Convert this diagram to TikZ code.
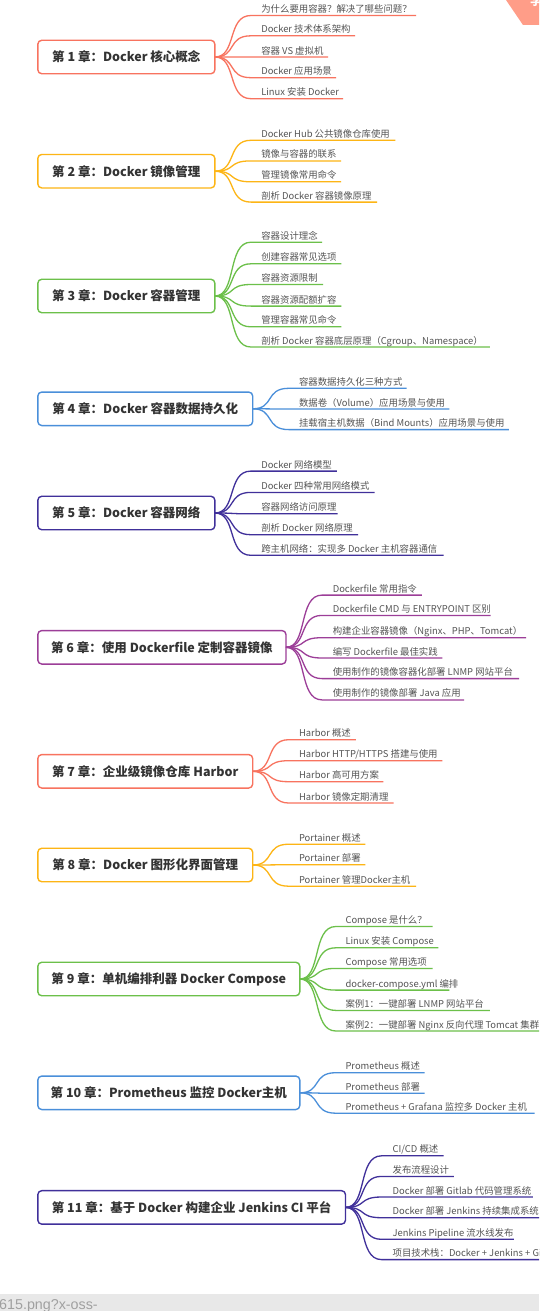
\documentclass[tikz,border=0pt]{standalone}
\usepackage{fontspec}
\setmainfont{Noto Sans CJK SC}
\newfontfamily\barfont{Liberation Sans}
\usetikzlibrary{backgrounds}
\definecolor{cRed}{HTML}{F8735F}
\definecolor{cOra}{HTML}{FDB515}
\definecolor{cGre}{HTML}{6CC04A}
\definecolor{cBlu}{HTML}{4A8FDA}
\definecolor{cPur}{HTML}{40309A}
\definecolor{cMag}{HTML}{9C3E98}
\definecolor{titlegray}{HTML}{333333}
\definecolor{subgray}{HTML}{555555}
\definecolor{barbg}{HTML}{E8E8E8}
\definecolor{bartext}{HTML}{A0A0A0}
\definecolor{ribbon}{HTML}{FF9D88}

\newcommand{\mkchap}[7]{%
  \node[chapbox, draw=#2, minimum width={#4-37.8}] (c#1) at ({(37.8+#4)/2}, #3) {#6};
  \foreach \yu/\xend/\txt [count=\i] in {#7} {
    \coordinate (s#1-\i) at ({#4+36}, \yu);
    \coordinate (e#1-\i) at (\xend, \yu);
    \draw[subline, #2] (c#1.east) .. controls +(22,0) and +(-24,0) .. (s#1-\i) -- (e#1-\i);
    \node[subtxt, anchor=base west] (t#1-\i) at (#5, \yu-3) {\txt};
  }
}

\begin{document}
\begin{tikzpicture}[x=1pt,y=-1pt,
  chapbox/.style={rectangle, rounded corners=4pt, fill=white, line width=1.4pt,
    minimum height=33.5pt, inner sep=0pt, outer sep=0pt,
    font=\fontsize{12.5}{14}\selectfont\bfseries, text=titlegray},
  subline/.style={line width=1.3pt},
  subtxt/.style={inner sep=0pt, outer sep=0pt, font=\fontsize{9.4}{11}\selectfont, text=subgray},
  spinebr/.style={line width=6pt, rounded corners=8pt},
  lowbr/.style={line width=3.2pt, rounded corners=8pt}]
\clip (0,0) rectangle (539,1311);
\fill[white] (0,0) rectangle (539,1311);

\mkchap{1}{cRed}{57}{214.9}{261.3}{第 1 章：Docker 核心概念}{
  15.5/416/{为什么要用容器？解决了哪些问题？},
  35.8/355/{Docker 技术体系架构},
  57.1/328/{容器 VS 虚拟机},
  77.7/336/{Docker 应用场景},
  98.7/343/{Linux 安装 Docker}}

\mkchap{2}{cOra}{171.2}{214.9}{261.3}{第 2 章：Docker 镜像管理}{
  140.3/395.3/{Docker Hub 公共镜像仓库使用},
  160.9/341/{镜像与容器的联系},
  181.8/341/{管理镜像常用命令},
  202.1/377/{剖析 Docker 容器镜像原理}}

\mkchap{3}{cGre}{296}{214.9}{261.3}{第 3 章：Docker 容器管理}{
  242.2/322/{容器设计理念},
  263.8/341.4/{创建容器常见选项},
  284.5/323/{容器资源限制},
  306.1/341.4/{容器资源配额扩容},
  326.8/341.4/{管理容器常见命令},
  347/489.9/{剖析 Docker 容器底层原理（Cgroup、Namespace）}}

\mkchap{4}{cBlu}{408.8}{252.7}{299}{第 4 章：Docker 容器数据持久化}{
  388.3/406.7/{容器数据持久化三种方式},
  409/449.3/{数据卷（Volume）应用场景与使用},
  429.6/508.8/{挂载宿主机数据（Bind Mounts）应用场景与使用}}

\mkchap{5}{cPur}{513}{214.9}{261.3}{第 5 章：Docker 容器网络}{
  471.1/336.9/{Docker 网络模型},
  492.4/374.7/{Docker 四种常用网络模式},
  513.8/337.6/{容器网络访问原理},
  534.7/358.2/{剖析 Docker 网络原理},
  555.3/443.5/{跨主机网络：实现多 Docker 主机容器通信}}

\mkchap{6}{cMag}{647.3}{286}{332.8}{第 6 章：使用 Dockerfile 定制容器镜像}{
  595.1/421.8/{Dockerfile 常用指令},
  615.4/490.5/{Dockerfile CMD 与 ENTRYPOINT 区别},
  637.7/526/{构建企业容器镜像（Nginx、PHP、Tomcat）},
  658/442.4/{编写 Dockerfile 最佳实践},
  678.6/519/{使用制作的镜像容器化部署 LNMP 网站平台},
  699.9/464/{使用制作的镜像部署 Java 应用}}

\mkchap{7}{cRed}{771.3}{252.7}{299}{第 7 章：企业级镜像仓库 Harbor}{
  739.7/355.8/{Harbor 概述},
  760.7/442.4/{Harbor HTTP/HTTPS 搭建与使用},
  781.7/383.3/{Harbor 高可用方案},
  803/393.6/{Harbor 镜像定期清理}}

\mkchap{8}{cOra}{865}{252.7}{299}{第 8 章：Docker 图形化界面管理}{
  844.2/365.4/{Portainer 概述},
  864.8/365.4/{Portainer 部署},
  886.2/416/{Portainer 管理Docker主机}}

\mkchap{9}{cGre}{979}{299.8}{345.5}{第 9 章：单机编排利器 Docker Compose}{
  926.5/432.5/{Compose 是什么？},
  947.8/438.3/{Linux 安装 Compose},
  968.4/432.5/{Compose 常用选项},
  990.1/449.3/{docker-compose.yml 编排},
  1010.4/489.9/{案例1：一键部署 LNMP 网站平台},
  1031/560/{案例2：一键部署 Nginx 反向代理 Tomcat 集群}}

\mkchap{10}{cBlu}{1092.8}{299.8}{345.5}{第 10 章：Prometheus 监控 Docker主机}{
  1072.7/424.5/{Prometheus 概述},
  1093.3/424.5/{Prometheus 部署},
  1113.2/534.5/{Prometheus + Grafana 监控多 Docker 主机}}

\mkchap{11}{cPur}{1207.4}{345.5}{392.6}{第 11 章：基于 Docker 构建企业 Jenkins CI 平台}{
  1155.8/443.5/{CI/CD 概述},
  1176.4/453.8/{发布流程设计},
  1197/532.8/{Docker 部署 Gitlab 代码管理系统},
  1217.7/560/{Docker 部署 Jenkins 持续集成系统},
  1239.3/513.9/{Jenkins Pipeline 流水线发布},
  1259.6/560/{项目技术栈：Docker + Jenkins + Gitlab}}

\begin{scope}[on background layer]
  \coordinate (root) at (8.5,633);
  \coordinate (rootL) at (-4,633);
  \draw[spinebr, cRed] (root) |- (c1.west);
  \draw[spinebr, cOra] (root) |- (c2.west);
  \draw[spinebr, cGre] (root) |- (c3.west);
  \draw[spinebr, cBlu] (root) |- (c4.west);
  \draw[spinebr, cPur] (root) |- (c5.west);
  \draw[lowbr, cMag] (root) |- (c6.west);
  \draw[lowbr, cRed] (root) |- (c7.west);
  \draw[lowbr, cOra] (root) |- (c8.west);
  \draw[lowbr, cGre] (root) |- (c9.west);
  \draw[lowbr, cBlu] (root) |- (c10.west);
  \draw[line width=6pt, cPur] (rootL) -- (root);
  \draw[spinebr, cPur] (root) |- (c11.west);
\end{scope}

% top-right ribbon
\fill[ribbon] (506,0) -- (539,0) -- (539,25) -- (523,25) -- cycle;
\node[anchor=north west, inner sep=0pt, text=white, font=\fontsize{12}{12}\selectfont\bfseries] (rib) at (530,-5) {学};

% bottom bar
\fill[barbg] (0,1294) rectangle (539,1311);
\node[anchor=base west, inner sep=0pt, text=bartext, font=\barfont\fontsize{14.3}{15}\selectfont] (url) at (-1,1309.5) {615.png?x-oss-};
\end{tikzpicture}
\end{document}
